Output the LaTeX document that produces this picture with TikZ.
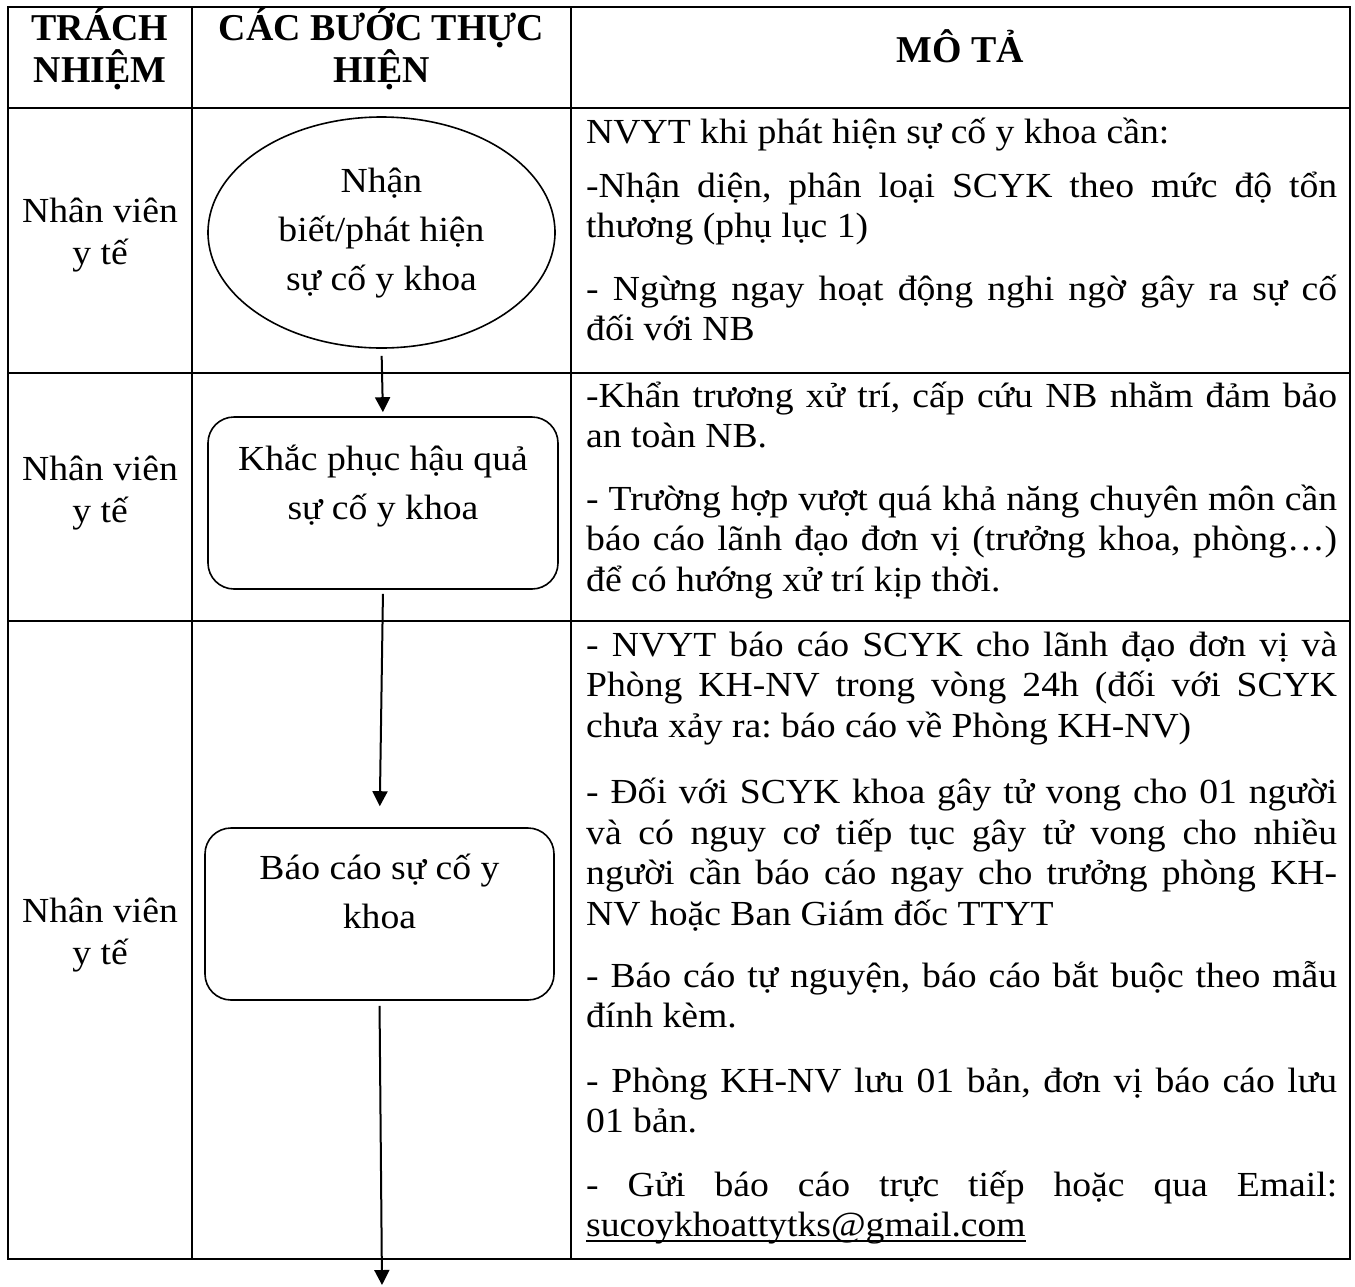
\documentclass[tikz,border=0pt]{standalone}
\usepackage{fontspec}
\setmainfont{Liberation Serif}
\newfontfamily\bodyf[FakeStretch=1.07]{Liberation Serif}
\usetikzlibrary{arrows.meta,shapes.geometric}
\setlength\lineskiplimit{-1000pt}
\newcommand\JL[1]{\hbox to 751pt{#1}}
\newcommand\RL[1]{\hbox{#1}}
\newcommand\CLn[1]{\hbox to 0pt{\hss #1\hss}}
\newcommand\ULine[1]{\setbox0\hbox{#1}\rlap{\vrule width\wd0 height -3.5pt depth 5.5pt}\box0}
\begin{document}
\frenchspacing
\begin{tikzpicture}[x=1pt,y=-1pt,
  grid/.style={line width=2.4pt},
  body/.style={inner sep=0pt, anchor=base west, font=\bodyf\fontsize{35.2}{40.5}\selectfont},
  ctext/.style={inner sep=0pt, anchor=base, font=\bodyf\fontsize{35.2}{42}\selectfont},
  stext/.style={inner sep=0pt, anchor=base, font=\bodyf\fontsize{35.2}{49}\selectfont},
  head/.style={inner sep=0pt, anchor=base, font=\fontsize{37.9}{42}\selectfont\bfseries},
  shapebox/.style={draw, line width=1.6pt, rounded corners=26pt, minimum width=350pt, minimum height=172pt, inner sep=0pt},
  arr/.style={line width=2pt, -{Triangle[width=15pt,length=15pt]}},
]
\useasboundingbox[fill=white] (0,0) rectangle (1355,1286);
% table
\draw[grid] (8,7) rectangle (1350,1259);
\draw[grid] (192,7) -- (192,1259);
\draw[grid] (571,7) -- (571,1259);
\draw[grid] (8,108) -- (1350,108);
\draw[grid] (8,373) -- (1350,373);
\draw[grid] (8,621) -- (1350,621);
% header
\node[head] (h1) at (100,40) {\vtop{\CLn{TRÁCH}\CLn{NHIỆM}}};
\node[head] (h2) at (381.5,40) {\vtop{\CLn{CÁC BƯỚC THỰC}\CLn{HIỆN}}};
\node[head] (h3) at (960.5,62) {MÔ TẢ};
% responsibility
\node[ctext] (n1) at (100,222) {\vtop{\CLn{Nhân viên}\CLn{y tế}}};
\node[ctext] (n2) at (100,480) {\vtop{\CLn{Nhân viên}\CLn{y tế}}};
\node[ctext] (n3) at (100,922) {\vtop{\CLn{Nhân viên}\CLn{y tế}}};
% steps
\node[ellipse, draw, line width=1.6pt, minimum width=347pt, minimum height=231pt, inner sep=0pt] (s1) at (381.5,232.5) {};
\node[stext] (s1t) at (381.5,192) {\vtop{\CLn{Nhận}\CLn{biết/phát hiện}\CLn{sự cố y khoa}}};
\node[shapebox] (s2) at (383,503) {};
\node[stext] (s2t) at (383,470) {\vtop{\CLn{Khắc phục hậu quả}\CLn{sự cố y khoa}}};
\node[shapebox, minimum width=349pt] (s3) at (379.5,914) {};
\node[stext] (s3t) at (379.5,879) {\vtop{\CLn{Báo cáo sự cố y}\CLn{khoa}}};
\coordinate (endpt) at (382,1285);
\draw[arr, shorten <=7pt, shorten >=4pt] (s1.south) -- (s2.north);
\draw[arr, shorten <=4pt, shorten >=21pt] (s2.south) -- (s3.north);
\draw[arr, shorten <=5pt] (s3.south) -- (endpt);
% descriptions
\node[body] (d11) at (586,143) {NVYT khi phát hiện sự cố y khoa cần:};
\node[body] (d12) at (586,197) {\vtop{\JL{-Nhận diện, phân loại SCYK theo mức độ tổn}\RL{thương (phụ lục 1)}}};
\node[body] (d13) at (586,300) {\vtop{\JL{- Ngừng ngay hoạt động nghi ngờ gây ra sự cố}\RL{đối với NB}}};
\node[body] (d21) at (586,407) {\vtop{\JL{-Khẩn trương xử trí, cấp cứu NB nhằm đảm bảo}\RL{an toàn NB.}}};
\node[body] (d22) at (586,510) {\vtop{\JL{- Trường hợp vượt quá khả năng chuyên môn cần}\JL{báo cáo lãnh đạo đơn vị (trưởng khoa, phòng…)}\RL{để có hướng xử trí kịp thời.}}};
\node[body] (d31) at (586,656) {\vtop{\JL{- NVYT báo cáo SCYK cho lãnh đạo đơn vị và}\JL{Phòng KH-NV trong vòng 24h (đối với SCYK}\RL{chưa xảy ra: báo cáo về Phòng KH-NV)}}};
\node[body] (d32) at (586,803.5) {\vtop{\JL{- Đối với SCYK khoa gây tử vong cho 01 người}\JL{và có nguy cơ tiếp tục gây tử vong cho nhiều}\JL{người cần báo cáo ngay cho trưởng phòng KH-}\RL{NV hoặc Ban Giám đốc TTYT}}};
\node[body] (d33) at (586,987) {\vtop{\JL{- Báo cáo tự nguyện, báo cáo bắt buộc theo mẫu}\RL{đính kèm.}}};
\node[body] (d34) at (586,1092) {\vtop{\JL{- Phòng KH-NV lưu 01 bản, đơn vị báo cáo lưu}\RL{01 bản.}}};
\node[body] (d35) at (586,1196) {\vtop{\JL{- Gửi báo cáo trực tiếp hoặc qua Email:}\RL{\ULine{sucoykhoattytks@gmail.com}}}};
\end{tikzpicture}
\end{document}
